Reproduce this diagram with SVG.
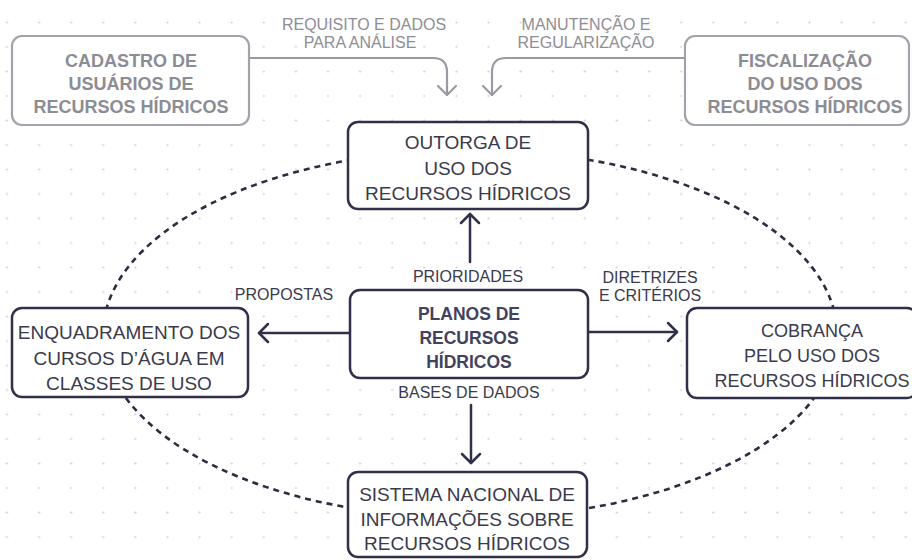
<svg xmlns="http://www.w3.org/2000/svg" width="912" height="560" viewBox="0 0 912 560">
<defs>
<pattern id="grid" patternUnits="userSpaceOnUse" x="-9.05" y="10.25" width="32.1" height="24.5">
<circle cx="16.05" cy="12.25" r="1.1" fill="#cfcfd4"/>
</pattern>
<style>
.t{font-family:"Liberation Sans",Arial,sans-serif;text-anchor:middle}
.nd{fill:#ffffff;stroke:#30304a;stroke-width:2.5}
.ng{fill:#ffffff;stroke:#a2a2aa;stroke-width:2.2}
.tx{font-size:19px;fill:#3a3a4c}
.tb{font-size:17.5px;font-weight:bold;fill:#42425e}
.tg{font-size:18px;font-weight:bold;fill:#8c8c94}
.lb{font-size:16px;fill:#3a3a4c}
.lg{font-size:16px;fill:#8e8e96}
.cd{fill:none;stroke:#30304a;stroke-width:2.5;stroke-linecap:round;stroke-linejoin:round}
.cg{fill:none;stroke:#9a9aa2;stroke-width:2.2;stroke-linecap:round;stroke-linejoin:round}
.el{fill:none;stroke:#2c2c42;stroke-width:2.6;stroke-dasharray:6 5}
</style>
</defs>
<rect x="0" y="0" width="912" height="560" fill="#ffffff"/>
<rect x="0" y="0" width="912" height="560" fill="url(#grid)"/>
<g id="connectors">
<ellipse class="el" cx="470" cy="334" rx="367" ry="184"/>
<path class="cg" d="M249,58 H433 Q447,58 447,72 V95"/>
<polyline class="cg" points="438,86 447,95 456,86"/>
<path class="cg" d="M685,58 H506 Q492,58 492,72 V95"/>
<polyline class="cg" points="483,86 492,95 501,86"/>
<line class="cd" x1="470" y1="262" x2="470" y2="214"/>
<polyline class="cd" points="461,223 470,214 479,223"/>
<line class="cd" x1="471" y1="405" x2="471" y2="463"/>
<polyline class="cd" points="462,454 471,463 480,454"/>
<line class="cd" x1="350" y1="333" x2="259" y2="333"/>
<polyline class="cd" points="268,324 259,333 268,342"/>
<line class="cd" x1="588" y1="332" x2="677" y2="332"/>
<polyline class="cd" points="668,323 677,332 668,341"/>
<text class="t lg" x="364" y="30">REQUISITO E DADOS</text>
<text class="t lg" x="360" y="48">PARA ANÁLISE</text>
<text class="t lg" x="586" y="30">MANUTENÇÃO E</text>
<text class="t lg" x="586" y="48">REGULARIZAÇÃO</text>
<text class="t lb" x="468" y="282">PRIORIDADES</text>
<text class="t lb" x="469" y="398">BASES DE DADOS</text>
<text class="t lb" x="284" y="300">PROPOSTAS</text>
<text class="t lb" x="650" y="283">DIRETRIZES</text>
<text class="t lb" x="650" y="301">E CRITÉRIOS</text>
</g>
<g id="cadastro">
<rect class="ng" x="12" y="36" width="237" height="89" rx="10"/>
<text class="t tg" x="131" y="67">CADASTRO DE</text>
<text class="t tg" x="131" y="90">USUÁRIOS DE</text>
<text class="t tg" x="131" y="113">RECURSOS HÍDRICOS</text>
</g>
<g id="fiscalizacao">
<rect class="ng" x="685" y="36" width="224" height="89" rx="10"/>
<text class="t tg" x="805" y="67">FISCALIZAÇÃO</text>
<text class="t tg" x="805" y="90">DO USO DOS</text>
<text class="t tg" x="805" y="113">RECURSOS HÍDRICOS</text>
</g>
<g id="outorga">
<rect class="nd" x="348" y="122" width="240" height="87" rx="10"/>
<text class="t tx" x="468" y="149">OUTORGA DE</text>
<text class="t tx" x="468" y="175">USO DOS</text>
<text class="t tx" x="468" y="200">RECURSOS HÍDRICOS</text>
</g>
<g id="planos">
<rect class="nd" x="350" y="290" width="238" height="88" rx="10"/>
<text class="t tb" x="469" y="320">PLANOS DE</text>
<text class="t tb" x="469" y="344">RECURSOS</text>
<text class="t tb" x="469" y="368">HÍDRICOS</text>
</g>
<g id="enquadramento">
<rect class="nd" x="12" y="308" width="236" height="89" rx="10"/>
<text class="t tx" x="129" y="339">ENQUADRAMENTO DOS</text>
<text class="t tx" x="129" y="365">CURSOS D’ÁGUA EM</text>
<text class="t tx" x="129" y="390">CLASSES DE USO</text>
</g>
<g id="cobranca">
<rect class="nd" x="687" y="308" width="230" height="90" rx="10"/>
<text class="t tx" x="812" y="337" style="font-size:18px">COBRANÇA</text>
<text class="t tx" x="812" y="362" style="font-size:18px">PELO USO DOS</text>
<text class="t tx" x="812" y="387" style="font-size:18px">RECURSOS HÍDRICOS</text>
</g>
<g id="sistema">
<rect class="nd" x="348" y="472" width="239" height="85" rx="10"/>
<text class="t tx" x="467" y="501">SISTEMA NACIONAL DE</text>
<text class="t tx" x="467" y="526">INFORMAÇÕES SOBRE</text>
<text class="t tx" x="467" y="550">RECURSOS HÍDRICOS</text>
</g>
</svg>
